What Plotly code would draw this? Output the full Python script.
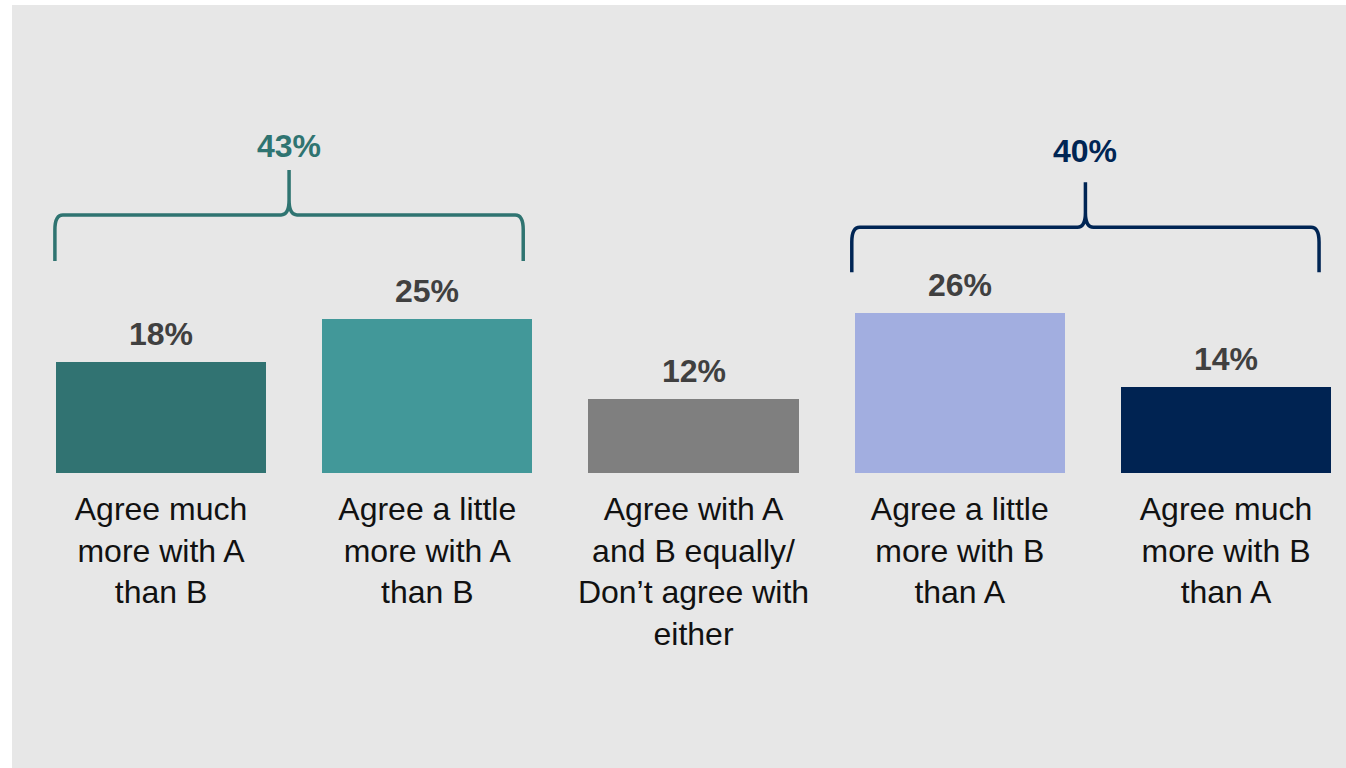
import plotly.graph_objects as go

# ---------------- data ----------------
categories = [
    "Agree much<br>more with A<br>than B",
    "Agree a little<br>more with A<br>than B",
    "Agree with A<br>and B equally/<br>Don’t agree with<br>either",
    "Agree a little<br>more with B<br>than A",
    "Agree much<br>more with B<br>than A",
]
values = [18, 25, 12, 26, 14]
bar_colors = ["#317372", "#429899", "#7f7f7f", "#a2aee0", "#002352"]

# groups summarised by braces: indices of bars in each group
group_members = [[0, 1], [3, 4]]
group_colors = ["#2f7471", "#002554"]

# ---------------- styling / layout config ----------------
W, H = 1346, 768
BG = "#e7e7e7"
BAR_WIDTH = 0.789
FONT = "Arial, Liberation Sans, sans-serif"
brace_cfg = [
    dict(in0=0.004, in1=0.034, yb=34.4, yh=41.9, yt=49.2, ylab=53.1),
    dict(in0=0.011, in1=0.045, yb=32.6, yh=39.9, yt=47.2, ylab=52.3),
]
RX, RY = 0.03, 2.4

ML, MR, MT, MB = 12, 0, 5, 295
plot_h = H - MT - MB
y_top = plot_h / 6.16
x_lo = -(161 - ML) / 266.25
x_hi = (W - 161) / 266.25

x = list(range(len(categories)))

fig = go.Figure()
fig.add_trace(go.Bar(
    x=x, y=values, width=BAR_WIDTH,
    marker=dict(color=bar_colors, line=dict(width=0)),
    hoverinfo="skip", showlegend=False,
))

annotations = []
for xi, v in zip(x, values):
    annotations.append(dict(
        x=xi, y=v, xref="x", yref="y", text=f"<b>{v}%</b>", showarrow=False,
        yanchor="middle", yshift=28,
        font=dict(family=FONT, size=32, color="#404040"),
    ))

shapes = [dict(
    type="rect", xref="paper", yref="paper", x0=0, x1=1,
    y0=-MB / plot_h, y1=0, fillcolor=BG, line=dict(width=0), layer="below",
)]


def brace_path(x0, x1, yb, yh, yt, rx, ry):
    xm = (x0 + x1) / 2
    return (
        f"M {x0},{yb} L {x0},{yh - ry} Q {x0},{yh} {x0 + rx},{yh} "
        f"L {xm - rx},{yh} Q {xm},{yh} {xm},{yh + ry} L {xm},{yt} "
        f"M {xm},{yh + ry} Q {xm},{yh} {xm + rx},{yh} "
        f"L {x1 - rx},{yh} Q {x1},{yh} {x1},{yh - ry} L {x1},{yb}"
    )


half = BAR_WIDTH / 2
for members, col, cfg in zip(group_members, group_colors, brace_cfg):
    x0 = min(members) - half - cfg["in0"]
    x1 = max(members) + half - cfg["in1"]
    shapes.append(dict(
        type="path", xref="x", yref="y",
        path=brace_path(x0, x1, cfg["yb"], cfg["yh"], cfg["yt"], RX, RY),
        line=dict(color=col, width=3.5), layer="above",
    ))
    total = sum(values[i] for i in members)
    annotations.append(dict(
        x=(x0 + x1) / 2, y=cfg["ylab"], xref="x", yref="y",
        text=f"<b>{total}%</b>", showarrow=False, yanchor="middle",
        font=dict(family=FONT, size=32, color=col),
    ))

fig.update_layout(
    width=W, height=H,
    margin=dict(l=ML, r=MR, t=MT, b=MB, pad=0),
    paper_bgcolor="white", plot_bgcolor=BG,
    font=dict(family=FONT),
    bargap=0,
    shapes=shapes, annotations=annotations,
    xaxis=dict(
        range=[x_lo, x_hi], tickmode="array", tickvals=x, ticktext=categories,
        showgrid=False, zeroline=False, showline=False, ticks="",
        tickfont=dict(family=FONT, size=32, color="#111111"),
        ticklabelstandoff=14, fixedrange=True,
    ),
    yaxis=dict(
        range=[0, y_top], visible=False, showgrid=False, zeroline=False,
        fixedrange=True,
    ),
)

fig.write_html(
    "out.html",
    config={"displayModeBar": False},
    post_script="document.body.style.margin='0';document.body.style.overflow='hidden';",
)
